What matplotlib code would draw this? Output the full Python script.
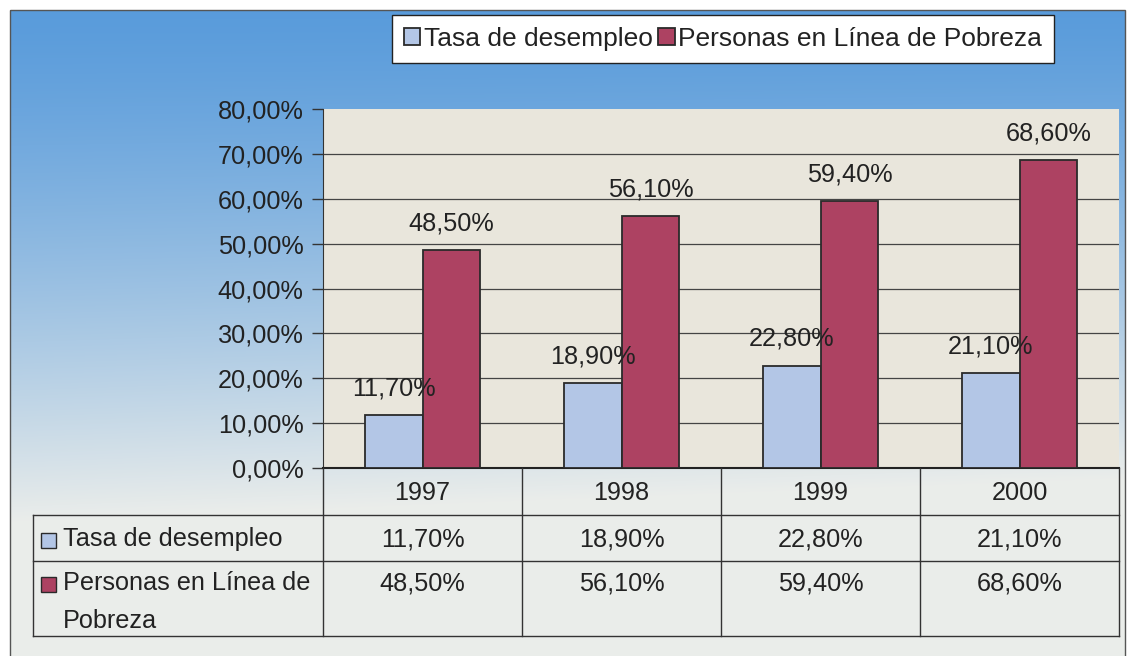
import numpy as np
import matplotlib
matplotlib.use("Agg")
import matplotlib.pyplot as plt
from matplotlib.patches import Rectangle

plt.rcParams['font.family'] = ['Liberation Sans', 'DejaVu Sans']

years = ["1997", "1998", "1999", "2000"]
series_names = ["Tasa de desempleo", "Personas en Línea de Pobreza"]
table_names = ["Tasa de desempleo", "Personas en Línea de\nPobreza"]
desempleo = [11.7, 18.9, 22.8, 21.1]
pobreza = [48.5, 56.1, 59.4, 68.6]
yticks = [0, 10, 20, 30, 40, 50, 60, 70, 80]

colors = ["#b3c6e6", "#ad4262"]
edge = "#2a2a2a"
fs = 18.2
fs_leg = 19
tc = "#222222"

def fmt(v):
    return f"{v:.2f}".replace(".", ",") + "%"

W, H = 1127, 656
fig = plt.figure(figsize=(W / 100, H / 100), dpi=100)

def fx(px):
    return px / W

def fy(py):
    return 1 - py / H

# background gradient
bg = fig.add_axes([0, 0, 1, 1], zorder=0)
bg.set_xlim(0, W)
bg.set_ylim(H, 0)
bg.axis("off")
yy, xx = np.mgrid[0:H, 0:W]
t = np.clip((yy / 520.0) ** 1.3 + 0.15 * (xx / W) * (yy / H), 0, 1)
top = np.array([0.35, 0.61, 0.86])
bot = np.array([0.92, 0.93, 0.92])
img = top[None, None, :] * (1 - t[..., None]) + bot[None, None, :] * t[..., None]
bg.imshow(img, extent=(10, 1125, 656, 10), aspect="auto", zorder=0)
bg.add_patch(Rectangle((10, 10), 1115, 660, fill=False, ec="#555555", lw=1, zorder=1))

# main bar axes
L, R, T, B = 323, 1119, 109, 468
ax = fig.add_axes([fx(L), fy(B), fx(R - L), (B - T) / H], zorder=2)
ax.set_facecolor("#e9e6dc")
x = np.arange(len(years))
bw = 0.29
b1 = ax.bar(x - bw / 2, desempleo, bw, color=colors[0], edgecolor=edge, lw=1.3, zorder=3)
b2 = ax.bar(x + bw / 2, pobreza, bw, color=colors[1], edgecolor=edge, lw=1.3, zorder=3)
for bars, vals in ((b1, desempleo), (b2, pobreza)):
    for rect, v in zip(bars, vals):
        ax.annotate(fmt(v), (rect.get_x() + rect.get_width() / 2, v),
                    xytext=(0, 19.5), textcoords="offset points",
                    ha="center", va="center", fontsize=fs, color=tc, zorder=4)
ax.set_xlim(-0.5, len(years) - 0.5)
ax.set_ylim(0, 80)
ax.set_yticks(yticks)
ax.set_yticklabels([fmt(v) for v in yticks], fontsize=fs, color=tc)
ax.set_xticks([])
for v in yticks[1:-1]:
    ax.axhline(v, color="#444444", lw=0.9, zorder=1)
ax.tick_params(axis="y", length=8, width=1, color="#333333", pad=6)
for s in ["top", "right"]:
    ax.spines[s].set_visible(False)
ax.spines["left"].set_color("#333333")
ax.spines["bottom"].set_color("#222222")
ax.spines["bottom"].set_linewidth(1.5)

# data table
tb = fig.add_axes([0, 0, 1, 1], zorder=3)
tb.set_xlim(0, W)
tb.set_ylim(H, 0)
tb.axis("off")
rows = [468, 515, 561, 636]
band = (R - L) / len(years)
lc = "#333333"
tb.plot([L, L], [rows[0], rows[-1]], color=lc, lw=1)
for i in range(1, len(years) + 1):
    tb.plot([L + i * band] * 2, [rows[0], rows[-1]], color=lc, lw=1)
for r in rows[1:]:
    tb.plot([33, R], [r, r], color=lc, lw=1)
tb.plot([33, 33], [rows[1], rows[-1]], color=lc, lw=1)
for i, yr in enumerate(years):
    cx = L + (i + 0.5) * band
    tb.text(cx, (rows[0] + rows[1]) / 2 + 2, yr, ha="center", va="center", fontsize=fs, color=tc)
    tb.text(cx, (rows[1] + rows[2]) / 2 + 2, fmt(desempleo[i]), ha="center", va="center", fontsize=fs, color=tc)
    tb.text(cx, rows[2] + 23, fmt(pobreza[i]), ha="center", va="center", fontsize=fs, color=tc)
label_y = [(rows[1] + rows[2]) / 2 + 2, rows[2] + 23]
for j, name in enumerate(table_names):
    tb.add_patch(Rectangle((41, label_y[j] - 7), 15, 15, fc=colors[j], ec=edge, lw=1))
    tb.text(63, label_y[j] - 13, name, ha="left", va="top", fontsize=fs, color=tc,
            linespacing=1.72)

# legend
lg = fig.legend([b1, b2], series_names, loc="upper left",
                bbox_to_anchor=(fx(392), fy(15)), ncol=2, fontsize=fs_leg,
                frameon=True, fancybox=False, handlelength=0.62, handleheight=0.62,
                handletextpad=0.13, columnspacing=0.22, borderpad=0.45, borderaxespad=0)
lg.get_frame().set_edgecolor("#222222")
lg.get_frame().set_facecolor("white")
lg.get_frame().set_alpha(1)
lg.get_frame().set_linewidth(1)
lg.set_zorder(5)
for txt in lg.get_texts():
    txt.set_color(tc)

fig.savefig("out.png", dpi=100)
